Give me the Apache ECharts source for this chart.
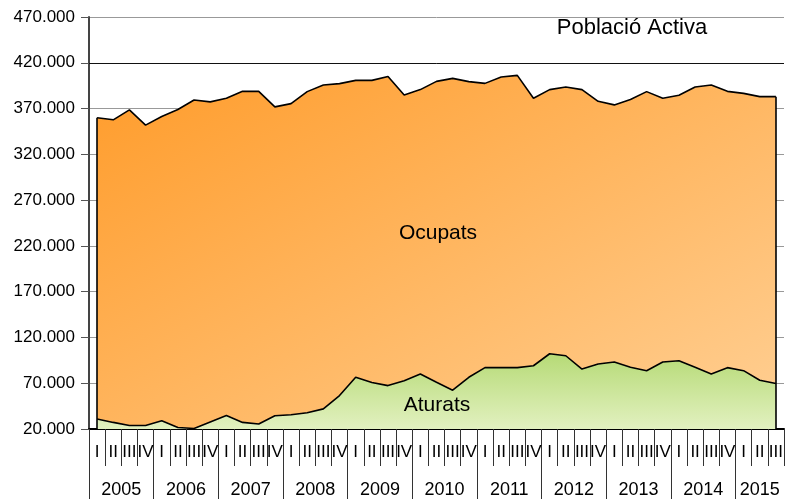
<!DOCTYPE html>
<html>
<head>
<meta charset="utf-8">
<script src="https://cdn.jsdelivr.net/npm/echarts@6/dist/echarts.min.js"></script>
<style>
  html, body {margin: 0; padding: 0; background: #fff;}
  #main {width: 787px; height: 499px;}
</style>
</head>
<body>
<div id="main"></div>
<script>
  var years = ['2005', '2006', '2007', '2008', '2009', '2010', '2011', '2012', '2013', '2014', '2015'];
  var quarterNames = ['I', 'II', 'III', 'IV'];
  var lastYearQuarters = 3;

  var aturats = [30900, 27200, 23900, 23800, 28900, 21600, 20500, 27600, 34700, 27200, 25400,
    34500, 35500, 37700, 42000, 56500, 76500, 70700, 67400, 72800, 80100, 71100, 62400,
    76500, 87000, 87000, 87000, 89100, 102200, 100000, 85500, 91000, 93100, 87400, 83700,
    93100, 94600, 87400, 80100, 87000, 83700, 73300, 69600];
  var ocupats = [329100, 330500, 344700, 328100, 332400, 347400, 358900, 349700, 346500, 361600, 363400,
    337300, 339900, 350800, 353800, 340700, 324300, 330100, 337700, 312100, 310600, 328600, 340600,
    322900, 310500, 317500, 319200, 292100, 288500, 293600, 305200, 286900, 280900, 292400, 304800,
    288100, 289900, 306200, 315700, 301800, 302900, 309700, 313400];

  // quarter categories: I..IV for each year, 2015 only up to III
  var quarters = [];
  years.forEach(function (y, i) {
    var n = i === years.length - 1 ? lastYearQuarters : 4;
    for (var q = 0; q < n; q++) quarters.push(quarterNames[q]);
  });

  // half-quarter grid for the year row, so each year label sits in the middle of its quarters
  var yearSlots = [];
  for (var s = 0; s <= quarters.length * 2; s++) yearSlots.push('');
  var start = 0;
  years.forEach(function (y, i) {
    var n = i === years.length - 1 ? lastYearQuarters : 4;
    yearSlots[start * 2 + n] = y;
    start += n;
  });

  var last = quarters.length - 1;
  var fmt = function (v) {
    return String(Math.round(v)).replace(/\B(?=(\d{3})+(?!\d))/g, '.');
  };
  var font = 'Liberation Sans';

  var chart = echarts.init(document.getElementById('main'));
  chart.setOption({
    animation: false,
    textStyle: {fontFamily: font},
    grid: {left: 89, top: 17, width: 697, height: 413},
    xAxis: [{
      type: 'category',
      position: 'bottom',
      boundaryGap: true,
      data: quarters,
      axisLine: {lineStyle: {color: '#000', width: 2}},
      axisTick: {show: true, interval: 0, length: 37, lineStyle: {color: '#333', width: 1}},
      axisLabel: {interval: 0, color: '#000', fontSize: 17, fontFamily: font, margin: 15},
      splitLine: {show: false}
    }, {
      type: 'category',
      position: 'bottom',
      boundaryGap: false,
      data: yearSlots,
      axisLine: {show: false},
      axisTick: {
        show: true, length: 72, lineStyle: {color: '#333', width: 1},
        interval: function (i) { return i % 8 === 0; }
      },
      axisLabel: {interval: 0, color: '#000', fontSize: 18, fontFamily: font, margin: 52},
      splitLine: {show: false}
    }],
    yAxis: {
      type: 'value',
      min: 20000,
      max: 470000,
      interval: 50000,
      axisLine: {show: true, lineStyle: {color: '#444', width: 2}},
      axisTick: {show: true, length: 8, lineStyle: {color: '#555'}},
      axisLabel: {color: '#000', fontSize: 17, fontFamily: font, margin: 14, formatter: fmt},
      splitLine: {show: true, lineStyle: {color: '#999', width: 1}}
    },
    graphic: [
      {type: 'text', z: 100, x: 632, y: 28, style: {text: 'Població Activa', fontSize: 22, fontFamily: font, fill: '#000', align: 'center', verticalAlign: 'middle'}},
      {type: 'text', z: 100, x: 438, y: 233, style: {text: 'Ocupats', fontSize: 21, fontFamily: font, fill: '#000', align: 'center', verticalAlign: 'middle'}},
      {type: 'text', z: 100, x: 437, y: 405, style: {text: 'Aturats', fontSize: 21, fontFamily: font, fill: '#000', align: 'center', verticalAlign: 'middle'}}
    ],
    series: [
      {
        type: 'line',
        name: 'Aturats',
        stack: 'total',
        symbol: 'none',
        lineStyle: {color: '#000', width: 1.6},
        areaStyle: {
          opacity: 1,
          color: new echarts.graphic.LinearGradient(0, 0, 0, 1, [
            {offset: 0, color: '#b6da76'},
            {offset: 1, color: '#e2f1c0'}
          ])
        },
        data: aturats
      },
      {
        type: 'line',
        name: 'Ocupats',
        stack: 'total',
        symbol: 'none',
        lineStyle: {color: '#000', width: 1.6},
        areaStyle: {
          opacity: 1,
          color: new echarts.graphic.LinearGradient(0, 0, 0.43, 1.48, [
            {offset: 0, color: '#ff9c2b'},
            {offset: 1, color: '#ffcc8d'}
          ])
        },
        markLine: {
          silent: true,
          symbol: 'none',
          label: {show: false},
          lineStyle: {color: '#000', width: 1.6, type: 'solid'},
          data: [
            {yAxis: 420000, lineStyle: {color: '#111', width: 1}},
            [{coord: [0, 20000]}, {coord: [0, aturats[0] + ocupats[0]]}],
            [{coord: [last, 20000]}, {coord: [last, aturats[last] + ocupats[last]]}]
          ]
        },
        data: ocupats
      }
    ]
  });
</script>
</body>
</html>
